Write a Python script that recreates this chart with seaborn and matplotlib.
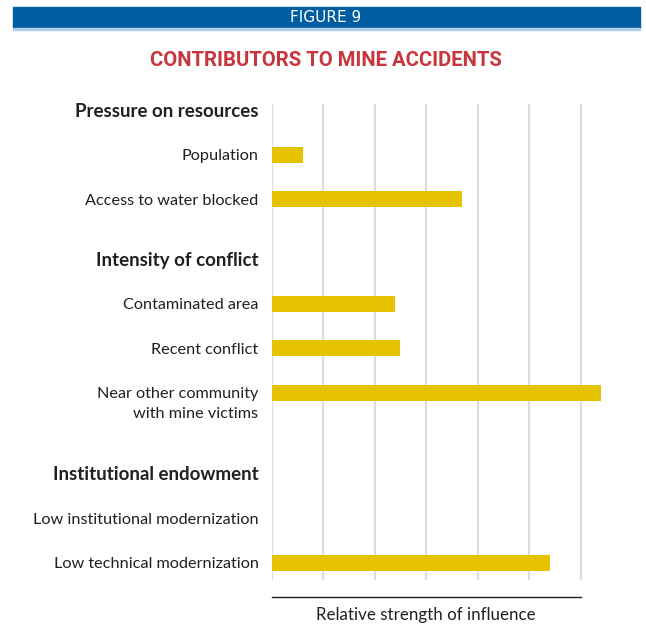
import numpy as np
import pandas as pd
import matplotlib
matplotlib.use("Agg")
import matplotlib.pyplot as plt
from matplotlib.transforms import blended_transform_factory
import seaborn as sns

# Groups of contributing factors and their relative strength of influence
groups = ["Pressure on resources", "Intensity of conflict", "Institutional endowment"]
factors = [
    "Population",
    "Access to water blocked",
    "Contaminated area",
    "Recent conflict",
    "Near other community\nwith mine victims",
    "Low institutional modernization",
    "Low technical modernization",
]
factor_group = [0, 0, 1, 1, 1, 2, 2]
strength = [0.6, 3.7, 2.4, 2.5, 6.4, 0.0, 5.4]

# Vertical layout: one unit per row, wider gaps before each new group
group_gap = [0.0, 1.33, 1.8]
row_labels, row_pos, row_is_head, bar_pos = [], [], [], []
pos = 0.0
for g, name in enumerate(groups):
    if g > 0:
        pos += group_gap[g]
    row_labels.append(name); row_pos.append(pos); row_is_head.append(True)
    for f, fg in zip(factors, factor_group):
        if fg == g:
            pos += 1.0
            row_labels.append(f); row_pos.append(pos); row_is_head.append(False)
            bar_pos.append(pos)

df = pd.DataFrame({"factor": factors, "strength": strength, "pos": bar_pos})

sns.set_theme(style="white")
plt.rcParams["font.family"] = ["Lato", "DejaVu Sans"]

W, H = 646, 626
fig = plt.figure(figsize=(W / 100, H / 100), dpi=100)
x0, x1, y_top, y_bot = 271.7, 611.6, 104, 580
ax = fig.add_axes([x0 / W, 1 - y_bot / H, (x1 - x0) / W, (y_bot - y_top) / H])

bar_h = 0.358
native_step = np.diff(np.sort(df["pos"].unique())).min()
sns.barplot(data=df, x="strength", y="pos", orient="h", native_scale=True,
            width=bar_h / native_step, color="#E6C300", saturation=1,
            edgecolor="none", linewidth=0, ax=ax)

unit = 44.7
ax.set_ylim((y_bot - 110) / unit, (y_top - 110) / unit)
ax.set_xlim(0, 6.6)
ax.set_xticks(range(7))
ax.set_xticklabels([])
ax.xaxis.grid(True, color="#DCDCDC", linewidth=1.5)
ax.yaxis.grid(False)
ax.set_axisbelow(True)
ax.set_xlabel("")
ax.set_ylabel("")

# Single-line row labels as tick labels; two-line labels drawn with their
# first line level with the bar
tick_pos, tick_text, tick_head = [], [], []
for p, t, h in zip(row_pos, row_labels, row_is_head):
    if "\n" in t:
        ax.annotate(t, xy=(0, p), xytext=(-13.7 * 0.72, -11 * 0.72),
                    textcoords="offset points", ha="right", va="center",
                    multialignment="right", linespacing=1.53,
                    fontsize=11.7, color="#231F20", annotation_clip=False)
    else:
        tick_pos.append(p); tick_text.append(t); tick_head.append(h)

ax.set_yticks(tick_pos)
ax.set_yticklabels(tick_text)
ax.tick_params(axis="y", length=0, pad=9.5)
ax.tick_params(axis="x", length=0)
for lab, head in zip(ax.get_yticklabels(), tick_head):
    lab.set_color("#231F20")
    if head:
        lab.set_fontweight("bold")
        lab.set_fontsize(13.5)
    else:
        lab.set_fontsize(11.7)

for side in ["top", "right", "left"]:
    ax.spines[side].set_visible(False)
ax.spines["bottom"].set_bounds(0, 6)
ax.spines["bottom"].set_position(("outward", 12.2))
ax.spines["bottom"].set_color("#231F20")
ax.spines["bottom"].set_linewidth(1.0)

trans = blended_transform_factory(ax.transData, fig.transFigure)
ax.text(3, 1 - 615 / H, "Relative strength of influence", transform=trans,
        ha="center", va="center", fontsize=12.2, color="#231F20")

# Figure banner and title
fig.patches.append(plt.Rectangle((12.7 / W, 1 - 28 / H), (640 - 12.7) / W, 21 / H,
                                 transform=fig.transFigure, color="#005DA0", zorder=0))
fig.patches.append(plt.Rectangle((12.7 / W, 1 - 29.5 / H), (640 - 12.7) / W, 1.5 / H,
                                 transform=fig.transFigure, color="#B3CDE6", zorder=0))
fig.text(326 / W, 1 - 18 / H, "FIGURE 9", ha="center", va="center", color="white",
         fontsize=11, family=["DejaVu Sans"])
fig.text(326 / W, 1 - 61 / H, "CONTRIBUTORS TO MINE ACCIDENTS", ha="center", va="center",
         color="#C8363D", fontsize=14.6, fontweight="bold",
         family=["Roboto", "DejaVu Sans"])

fig.savefig("out.png", dpi=100)
